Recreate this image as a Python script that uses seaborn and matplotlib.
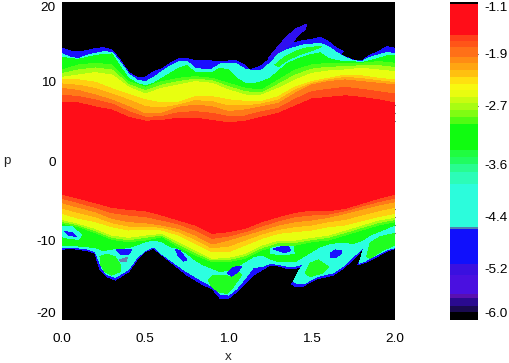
import numpy as np
import matplotlib
matplotlib.use('Agg')
import matplotlib.pyplot as plt
import seaborn as sns
from matplotlib.colors import ListedColormap, BoundaryNorm

# phase space picture: level edges, outermost first
X_COARSE = [0.0, 0.1, 0.2, 0.3, 0.4, 0.5, 0.6, 0.7, 0.8, 0.9, 1.0, 1.1, 1.2, 1.3, 1.4, 1.5, 1.6, 1.7, 1.8, 1.9, 2.0]
X_FINE = [0.0, 0.05, 0.1, 0.15, 0.2, 0.25, 0.3, 0.35, 0.4, 0.45, 0.5, 0.55, 0.6, 0.65, 0.7, 0.75, 0.8, 0.85, 0.9, 0.95,
          1.0, 1.05, 1.1, 1.15, 1.2, 1.25, 1.3, 1.35, 1.4, 1.45, 1.5, 1.55, 1.6, 1.65, 1.7, 1.75, 1.8, 1.85, 1.9, 1.95, 2.0]

# upper side
U_BLUE_X = [0.0, 0.05, 0.1, 0.15, 0.2, 0.25, 0.3, 0.35, 0.4, 0.45, 0.5, 0.55, 0.6, 0.65, 0.7, 0.75, 0.8, 0.85, 0.9, 0.95,
            1.0, 1.05, 1.09, 1.13, 1.2, 1.25, 1.3, 1.35, 1.4, 1.45, 1.5, 1.55, 1.6, 1.65, 1.69, 1.67, 1.7, 1.75, 1.8, 1.85, 1.9, 1.95, 2.0]
U_BLUE = [14.17, 13.84, 13.75, 13.88, 14.13, 14.26, 13.96, 12.7, 11.15, 10.52, 10.52, 11.24, 11.57, 12.29, 12.83, 12.91, 12.58, 12.58, 12.58, 12.49,
          12.58, 12.58, 12.16, 11.45, 11.99, 12.91, 13.96, 14.6, 14.88, 15.14, 15.3, 15.55, 15.01, 14.17, 13.75, 13.42, 13.12, 12.7, 12.58, 13.33, 13.75, 14.38, 14.17]
U_CYAN = [13.46, 13.04, 12.87, 13.29, 13.54, 13.75, 13.67, 12.41, 10.94, 10.19, 9.94, 10.52, 11.24, 11.95, 12.45, 12.54, 11.66, 11.53, 11.53, 12.2,
          12.29, 12.2, 11.53, 11.36, 11.45, 12.29, 13.43, 14.0, 14.3, 14.6, 14.7, 14.8, 14.38, 13.63, 13.04, 12.62, 12.49, 13.04, 13.33, 13.63, 13.54]
U_TEAL = [13.04, 12.87, 12.79, 13.04, 13.25, 13.42, 13.46, 11.87, 10.4, 9.77, 9.43, 9.77, 10.4, 11.03, 11.66, 11.99, 11.11, 11.11, 11.11, 11.66,
          11.45, 10.4, 9.77, 9.69, 9.98, 10.4, 11.3, 12.2, 12.7, 13.1, 13.4, 13.6, 12.91, 12.62, 12.49, 12.49, 12.37, 12.62, 12.91, 13.21, 13.33]
U_GREEN = [11.45, 12.08, 12.29, 12.08, 9.98, 9.27, 9.98, 10.4, 10.61, 10.4, 9.77, 9.14, 8.93, 10.19, 11.45, 12.08, 12.29, 12.29, 12.29, 12.5, 12.29]
U_SPRING = [11.0, 11.45, 11.7, 11.45, 9.6, 8.85, 9.55, 10.0, 10.3, 10.1, 9.35, 8.7, 8.6, 9.65, 10.8, 11.55, 11.8, 11.85, 12.0, 12.0, 11.75]
U_LIME = [10.52, 10.82, 11.11, 10.82, 9.27, 8.43, 9.14, 9.56, 9.98, 9.77, 8.93, 8.3, 8.3, 9.14, 10.19, 11.03, 11.32, 11.45, 11.66, 11.45, 11.24]
U_YELLOW = [10.2, 10.2, 9.9, 9.1, 8.4, 7.7, 7.3, 7.4, 8.1, 8.1, 7.7, 7.5, 7.5, 8.1, 9.3, 10.0, 10.4, 10.8, 10.7, 10.4, 10.2]
U_AMBER = [9.69, 9.52, 9.1, 8.43, 7.67, 6.83, 6.67, 7.04, 7.59, 7.46, 6.92, 6.92, 7.17, 7.67, 8.93, 9.77, 10.19, 10.52, 10.36, 10.1, 9.85]
U_ORANGE = [9.14, 8.85, 8.3, 7.67, 6.83, 5.91, 6.0, 6.75, 7.04, 6.83, 6.21, 6.42, 6.83, 7.25, 8.51, 9.56, 9.98, 10.19, 9.98, 9.77, 9.56]
U_MIDRED = [8.3, 8.09, 7.67, 7.17, 6.21, 5.49, 5.58, 6.08, 6.21, 6.0, 5.58, 5.66, 6.21, 6.62, 7.76, 8.72, 9.01, 9.27, 9.01, 8.72, 8.43]
U_RED = [7.3, 7.3, 6.8, 6.4, 5.5, 5.0, 5.1, 5.4, 5.4, 5.1, 4.8, 5.0, 5.5, 6.0, 6.9, 7.8, 8.0, 8.2, 8.0, 7.7, 7.3]

# lower side
L_BLUE_X = [0.0, 0.05, 0.1, 0.15, 0.2, 0.21, 0.23, 0.27, 0.32, 0.4, 0.45, 0.5, 0.55, 0.6, 0.65, 0.7, 0.75, 0.8, 0.85, 0.9, 0.95,
            1.0, 1.05, 1.1, 1.15, 1.2, 1.25, 1.3, 1.35, 1.4, 1.46, 1.42, 1.38, 1.4, 1.44, 1.53, 1.63, 1.69, 1.77, 1.83, 1.81, 1.775, 1.82, 1.91, 1.96, 2.0]
L_BLUE = [-11.11, -10.99, -11.11, -11.28, -11.61, -12.45, -13.71, -14.55, -14.97, -13.92, -12.45, -11.4, -10.99, -11.82, -12.66, -13.5, -14.34, -14.97, -15.6, -16.02, -17.27,
          -17.27, -16.44, -15.39, -14.34, -13.71, -13.08, -13.21, -13.5, -13.5, -13.08, -14.13, -15.47, -15.81, -15.81, -14.84, -14.34, -13.5, -11.95, -10.35, -11.82, -13.08, -12.79, -11.82, -11.28, -10.99]
L_CYAN_X = [0.0, 0.05, 0.1, 0.15, 0.2, 0.22, 0.24, 0.27, 0.32, 0.4, 0.45, 0.5, 0.55, 0.6, 0.65, 0.7, 0.75, 0.8, 0.85, 0.9, 0.95,
            1.0, 1.05, 1.1, 1.15, 1.2, 1.25, 1.3, 1.35, 1.4, 1.45, 1.42, 1.39, 1.41, 1.45, 1.53, 1.63, 1.69, 1.76, 1.815, 1.8, 1.785, 1.82, 1.91, 1.96, 2.0]
L_CYAN = [-10.9, -10.86, -10.94, -11.03, -11.4, -12.45, -13.5, -14.26, -14.63, -13.63, -12.12, -11.28, -10.78, -11.7, -12.45, -13.21, -13.92, -14.55, -15.18, -15.72, -16.73,
          -16.86, -16.02, -14.76, -13.38, -13.29, -12.87, -13.0, -13.21, -13.21, -12.96, -13.92, -15.18, -15.39, -15.47, -14.55, -14.05, -13.21, -11.82, -10.78, -11.82, -12.87, -12.58, -11.61, -11.11, -10.9]
L_TEAL = [-10.69, -10.57, -10.69, -10.78, -10.9, -11.28, -11.07, -10.99, -10.9, -10.57, -10.15, -9.94, -10.15, -10.78, -10.99, -11.61, -12.45, -13.08, -13.5, -13.92,
          -13.71, -13.29, -12.66, -12.03, -11.82, -12.3, -12.66, -12.66, -12.66, -12.03, -11.4, -10.77, -10.44, -10.27, -10.27, -10.35, -10.02, -9.31, -8.89, -8.47, -8.05]
L_GREEN = [-7.84, -8.26, -9.01, -9.85, -10.15, -9.94, -9.52, -10.78, -11.82, -12.66, -12.66, -12.24, -11.19, -10.57, -10.57, -10.15, -9.94, -9.31, -8.68, -8.05, -7.63]
L_SPRING = [-7.6, -8.05, -8.75, -9.6, -9.9, -9.6, -9.3, -10.45, -11.5, -12.45, -12.4, -11.9, -10.9, -10.25, -10.25, -9.9, -9.6, -9.0, -8.35, -7.75, -7.35]
L_LIME = [-7.34, -7.84, -8.47, -9.31, -9.6, -9.31, -9.1, -10.15, -11.19, -12.24, -12.12, -11.61, -10.57, -9.94, -9.94, -9.6, -9.31, -8.68, -8.05, -7.42, -7.09]
L_YELLOW = [-6.58, -7.21, -7.63, -8.26, -8.68, -8.59, -8.68, -9.31, -10.36, -11.4, -11.4, -10.57, -9.73, -9.1, -8.89, -8.68, -8.26, -8.05, -7.5, -7.0, -6.58]
L_AMBER = [-5.91, -6.5, -7.0, -7.76, -8.18, -8.18, -8.34, -8.89, -9.85, -10.94, -10.69, -9.94, -9.18, -8.59, -8.26, -8.05, -7.63, -7.34, -6.79, -6.25, -5.82]
L_ORANGE = [-5.24, -5.83, -6.37, -7.21, -7.63, -7.76, -8.05, -8.47, -9.31, -10.44, -9.94, -9.31, -8.68, -8.05, -7.63, -7.42, -7.09, -6.58, -6.08, -5.53, -5.11]
L_MIDRED = [-4.7, -5.24, -5.83, -6.5, -6.79, -7.0, -7.42, -7.92, -8.68, -9.73, -9.43, -8.89, -8.18, -7.5, -7.0, -6.79, -6.67, -6.25, -5.66, -5.11, -4.65]
L_RED = [-4.15, -4.7, -5.24, -5.83, -6.08, -6.25, -6.79, -7.42, -8.05, -9.1, -8.89, -8.47, -7.63, -7.0, -6.46, -6.16, -6.25, -5.95, -5.32, -4.7, -4.15]

# loose patches inside the filaments
FINGER_X = [1.239, 1.289, 1.349, 1.41, 1.47, 1.46, 1.419, 1.379, 1.339, 1.289]
FINGER_P = [12.92, 14.18, 15.64, 16.69, 17.2, 16.57, 15.85, 14.8, 14.18, 13.34]
GREEN_PATCHES = [
    ([0.228, 0.268, 0.318, 0.352, 0.348, 0.298, 0.258, 0.234], [-12.03, -11.7, -12.03, -13.08, -13.92, -14.34, -13.92, -13.08]),
    ([0.879, 0.909, 0.969, 1.009, 1.059, 1.079, 1.029, 0.989, 0.939, 0.899], [-14.97, -14.34, -14.34, -14.55, -13.92, -14.34, -15.81, -16.65, -16.44, -15.81]),
    ([1.46, 1.49, 1.54, 1.6, 1.56, 1.49], [-14.13, -12.87, -12.45, -13.29, -14.13, -14.55]),
    ([1.83, 1.85, 1.91, 2.0, 2.0, 1.93, 1.85], [-12.03, -10.35, -9.52, -9.1, -10.58, -11.2, -12.24]),
    # streak through the cyan on the upper side
    ([1.279, 1.339, 1.41, 1.48, 1.56, 1.5, 1.419, 1.349, 1.299], [12.08, 13.13, 13.88, 14.3, 14.39, 13.88, 13.34, 12.63, 11.87]),
]
CYAN_PATCHES = [
    ([0.0, 0.058, 0.118, 0.098, 0.038, 0.0], [-8.26, -8.26, -9.31, -9.85, -9.73, -9.52]),
    ([1.25, 1.32, 1.39, 1.394, 1.33, 1.25], [-10.78, -10.36, -10.57, -11.61, -11.82, -11.61]),
]
BLUE_ISLANDS = [
    ([0.018, 0.058, 0.088, 0.038], [-8.89, -9.01, -9.52, -9.31]),
    ([0.328, 0.418, 0.398, 0.358], [-11.19, -11.11, -11.82, -11.82]),
    ([0.683, 0.709, 0.749, 0.729, 0.699], [-11.11, -11.28, -12.45, -12.58, -11.95]),
    ([0.993, 1.029, 1.079, 1.059, 1.019], [-14.13, -13.38, -13.21, -13.92, -14.47]),
    ([1.269, 1.319, 1.359, 1.373, 1.339, 1.299], [-11.07, -10.78, -10.78, -11.28, -11.53, -11.28]),
    ([1.61, 1.64, 1.68, 1.674, 1.64, 1.616], [-11.61, -11.19, -11.28, -11.74, -12.16, -12.12]),
]
GREY_ISLAND_X = [0.348, 0.392, 0.384, 0.352]
GREY_ISLAND_P = [-12.45, -12.12, -12.66, -12.66]

# colour bar bands, top to bottom
BAR_EDGES = [-1.1, -1.13, -1.61, -1.70, -1.79, -1.95, -2.04, -2.15, -2.26, -2.36, -2.46, -2.56, -2.66, -2.76, -2.87, -2.98,
             -3.38, -3.49, -3.60, -3.72, -3.90, -4.57, -4.60, -5.14, -5.31, -5.60, -5.66, -5.78, -5.88, -6.0]
BAR_COLORS = ['#000000', '#ff0d18', '#ff3f1a', '#ff5518', '#ff7018', '#ff8c14', '#ffa512', '#ffc010', '#ffe010', '#f8f810',
              '#e8fc10', '#c8fc10', '#a8fc12', '#80fc12', '#50fc12', '#10fc10', '#20fc40', '#20fc60', '#28fc90', '#2cfcb8',
              '#2cfcdc', '#5080b0', '#1010fc', '#3a10e0', '#4a10e0', '#5a10b0', '#2a0a90', '#1a0a50', '#000000']
BAR_TICKS = [-1.1, -1.9, -2.7, -3.6, -4.4, -5.2, -6.0]
P_TICKS = [20, 10, 0, -10, -20]
P_MINOR = [7, 6, 5, -6, -7, -8, -9]
X_TICKS = [0.0, 0.5, 1.0, 1.5, 2.0]


def band(ax, x_up, p_up, x_lo, p_lo, color):
    xs = list(x_up) + list(x_lo)[::-1]
    ps = list(p_up) + list(p_lo)[::-1]
    ax.fill(xs, ps, color=color, lw=0, antialiased=False)


def plot_field(ax):
    ax.set_facecolor('black')
    band(ax, U_BLUE_X, U_BLUE, L_BLUE_X, L_BLUE, '#1a0fff')
    ax.fill(FINGER_X, FINGER_P, color='#2f10f0', lw=0, antialiased=False)
    band(ax, X_FINE, U_CYAN, L_CYAN_X, L_CYAN, '#2cffe0')
    band(ax, X_FINE, U_TEAL, X_FINE, L_TEAL, '#14ff14')
    for xs, ps in CYAN_PATCHES:
        ax.fill(xs, ps, color='#2cffe0', lw=0, antialiased=False)
    for xs, ps in GREEN_PATCHES:
        ax.fill(xs, ps, color='#20ff20', lw=0, antialiased=False)
    for xs, ps in BLUE_ISLANDS:
        ax.fill(xs, ps, color='#1a0fff', lw=0, antialiased=False)
    ax.fill(GREY_ISLAND_X, GREY_ISLAND_P, color='#6a7fb0', lw=0, antialiased=False)

    layers = [(U_GREEN, L_GREEN, '#50ff14'), (U_SPRING, L_SPRING, '#a8ff12'), (U_LIME, L_LIME, '#e8ff10'),
              (U_YELLOW, L_YELLOW, '#ffd010'), (U_AMBER, L_AMBER, '#ffa812'), (U_ORANGE, L_ORANGE, '#ff7a18'),
              (U_MIDRED, L_MIDRED, '#ff4c1a'), (U_RED, L_RED, '#ff0d18')]
    for up, lo, color in layers:
        band(ax, X_COARSE, up, X_COARSE, lo, color)

    ax.set_xlim(0, 2)
    ax.set_ylim(-20, 20)
    ax.set_xticks(X_TICKS, [f'{v:.1f}' for v in X_TICKS])
    ax.set_yticks(P_TICKS, [str(v) for v in P_TICKS])
    ax.set_yticks(P_MINOR, minor=True)
    ax.tick_params(axis='x', which='major', length=0, labelsize=9.7, pad=9, colors='black')
    ax.tick_params(axis='y', which='major', length=0, labelsize=9.7, pad=4.5, colors='black')
    ax.tick_params(axis='y', which='minor', length=3, width=0.8, direction='in', left=True, right=True, color='black')
    ax.get_yticklabels()[0].set_va('top')
    ax.get_yticklabels()[-1].set_va('bottom')
    sns.despine(ax=ax, left=True, bottom=True)
    ax.set_xlabel('x', fontsize=9.7, labelpad=5)
    ax.set_ylabel('p', fontsize=9.7, rotation=0, labelpad=21, va='center')


def plot_bar(ax):
    rows = 318
    values = -1.1 - (np.arange(rows) + 0.5) / rows * 4.9
    edges = BAR_EDGES[::-1]
    cmap = ListedColormap(BAR_COLORS[::-1])
    norm = BoundaryNorm(edges, cmap.N)
    sns.heatmap(values[:, None], ax=ax, cmap=cmap, norm=norm, cbar=False, xticklabels=False, yticklabels=False, rasterized=True)
    pos = [(-1.1 - v) / 4.9 * rows for v in BAR_TICKS]
    ax.set_yticks(pos, [f'{v:.1f}' for v in BAR_TICKS], rotation=0)
    ax.yaxis.tick_right()
    ax.tick_params(axis='y', length=5, width=0.8, direction='in', left=True, right=True, labelright=True, labelleft=False,
                   labelsize=9.7, pad=4.5, color='black', labelcolor='black')
    for tick, v in zip(ax.yaxis.get_major_ticks(), BAR_TICKS):
        if v not in (-1.9, -2.7):
            tick.tick1line.set_visible(False)
            tick.tick2line.set_visible(False)
    labels = ax.get_yticklabels()
    labels[0].set_va('top')
    labels[-1].set_va('bottom')
    sns.despine(ax=ax, left=True, bottom=True)


if __name__ == "__main__":
    sns.set_theme(style='white')
    plt.rcParams['font.family'] = ['Liberation Sans', 'DejaVu Sans']
    plt.rcParams['axes.unicode_minus'] = False
    fig = plt.figure(figsize=(5.09, 3.63), dpi=100)
    ax_main = fig.add_axes([62 / 509, 43 / 363, 333 / 509, 318 / 363])
    ax_bar = fig.add_axes([450 / 509, 43 / 363, 28 / 509, 318 / 363])
    plot_field(ax_main)
    plot_bar(ax_bar)
    fig.savefig('out.png', dpi=100)
